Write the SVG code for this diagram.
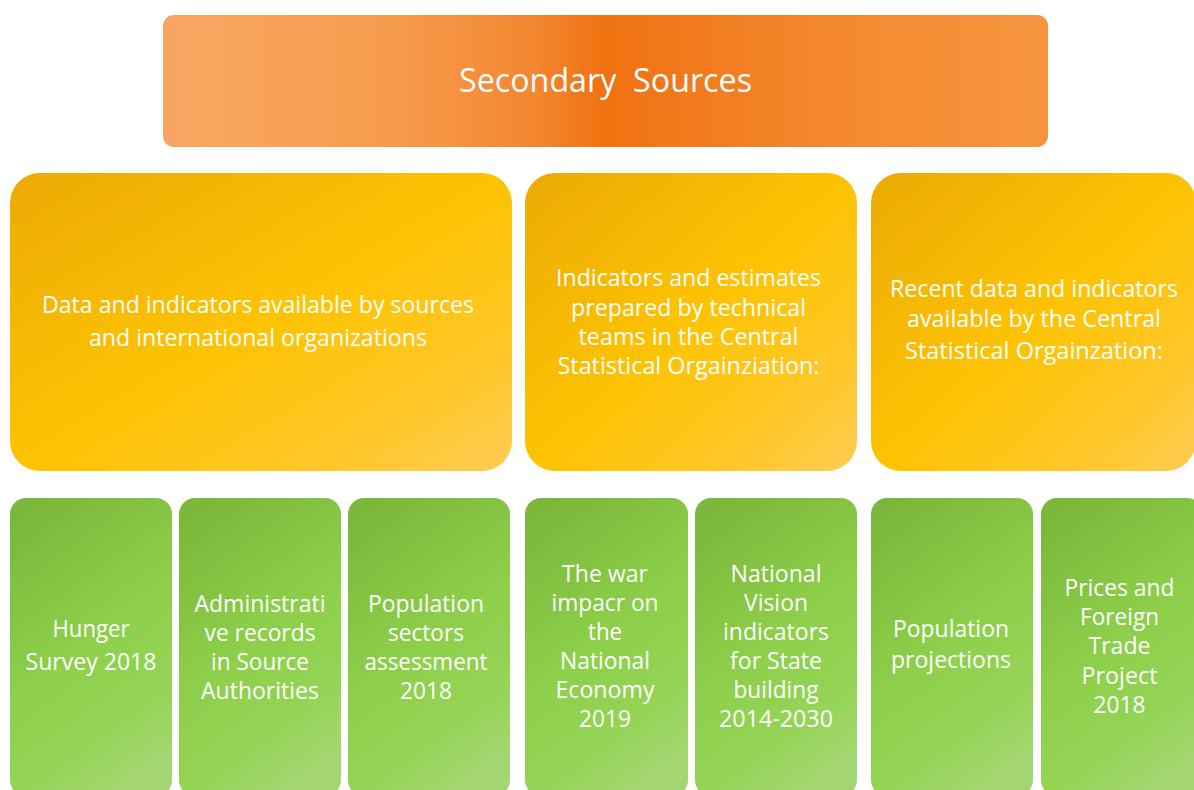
<svg xmlns="http://www.w3.org/2000/svg" width="1194" height="790" viewBox="0 0 1194 790">
<defs>
<linearGradient id="gBanner" x1="0" y1="0" x2="1" y2="0">
<stop offset="0" stop-color="#F5A462"/>
<stop offset="0.04" stop-color="#F9A65F"/>
<stop offset="0.25" stop-color="#F79C4E"/>
<stop offset="0.42" stop-color="#F48630"/>
<stop offset="0.5" stop-color="#F07210"/>
<stop offset="0.6" stop-color="#F27B1E"/>
<stop offset="0.8" stop-color="#F68B32"/>
<stop offset="1" stop-color="#F7953F"/>
</linearGradient>
<linearGradient id="gOrange" x1="0" y1="0" x2="1" y2="1">
<stop offset="0" stop-color="#EBAA05"/>
<stop offset="0.5" stop-color="#FDC302"/>
<stop offset="0.8" stop-color="#FFC72A"/>
<stop offset="1" stop-color="#FFCC55"/>
</linearGradient>
<linearGradient id="gGreen" x1="0.2" y1="0" x2="0.6" y2="1">
<stop offset="0" stop-color="#7AB73A"/>
<stop offset="0.5" stop-color="#8DCF4A"/>
<stop offset="0.8" stop-color="#94D456"/>
<stop offset="1" stop-color="#A3D670"/>
</linearGradient>
<style>
.t{font-family:"Open Sans","DejaVu Sans",sans-serif;fill:#FFFFFF;text-anchor:middle;font-size:23px}
.tb{font-size:33px}
.banner{fill:url(#gBanner)}
.ob{fill:url(#gOrange)}
.gb{fill:url(#gGreen)}
</style>
</defs>
<g id="banner">
<rect class="banner" x="163" y="15" width="885" height="132" rx="11"/>
<text class="t tb" x="605.5" y="92" xml:space="preserve" textLength="293" lengthAdjust="spacingAndGlyphs">Secondary  Sources</text>
</g>
<g id="cat-international">
<rect class="ob" x="10" y="173" width="502" height="298" rx="30"/>
<text class="t" x="258" y="313" textLength="432" lengthAdjust="spacingAndGlyphs">Data and indicators available by sources</text>
<text class="t" x="258" y="346" textLength="338" lengthAdjust="spacingAndGlyphs">and international organizations</text>
</g>
<g id="cat-technical">
<rect class="ob" x="525" y="173" width="332" height="298" rx="30"/>
<text class="t" x="688.5" y="286" textLength="265" lengthAdjust="spacingAndGlyphs">Indicators and estimates</text>
<text class="t" x="688.5" y="316" textLength="235" lengthAdjust="spacingAndGlyphs">prepared by technical</text>
<text class="t" x="688.5" y="345" textLength="220" lengthAdjust="spacingAndGlyphs">teams in the Central</text>
<text class="t" x="688.5" y="374" textLength="262" lengthAdjust="spacingAndGlyphs">Statistical Orgainziation:</text>
</g>
<g id="cat-recent">
<rect class="ob" x="871" y="173" width="325" height="298" rx="30"/>
<text class="t" x="1034" y="297" textLength="288" lengthAdjust="spacingAndGlyphs">Recent data and indicators</text>
<text class="t" x="1034" y="327" textLength="254" lengthAdjust="spacingAndGlyphs">available by the Central</text>
<text class="t" x="1034" y="359" textLength="258" lengthAdjust="spacingAndGlyphs">Statistical Orgainzation:</text>
</g>
<g id="item-hunger">
<rect class="gb" x="10" y="498" width="162" height="298" rx="16"/>
<text class="t" x="91" y="637" textLength="77" lengthAdjust="spacingAndGlyphs">Hunger</text>
<text class="t" x="91" y="670" textLength="131" lengthAdjust="spacingAndGlyphs">Survey 2018</text>
</g>
<g id="item-admin">
<rect class="gb" x="179" y="498" width="162" height="298" rx="16"/>
<text class="t" x="260" y="612" textLength="131" lengthAdjust="spacingAndGlyphs">Administrati</text>
<text class="t" x="260" y="641" textLength="111" lengthAdjust="spacingAndGlyphs">ve records</text>
<text class="t" x="260" y="670" textLength="98" lengthAdjust="spacingAndGlyphs">in Source</text>
<text class="t" x="260" y="699" textLength="118" lengthAdjust="spacingAndGlyphs">Authorities</text>
</g>
<g id="item-population-sectors">
<rect class="gb" x="348" y="498" width="162" height="298" rx="16"/>
<text class="t" x="426" y="612" textLength="116" lengthAdjust="spacingAndGlyphs">Population</text>
<text class="t" x="426" y="641" textLength="76" lengthAdjust="spacingAndGlyphs">sectors</text>
<text class="t" x="426" y="670" textLength="123" lengthAdjust="spacingAndGlyphs">assessment</text>
<text class="t" x="426" y="699" textLength="52" lengthAdjust="spacingAndGlyphs">2018</text>
</g>
<g id="item-war">
<rect class="gb" x="525" y="498" width="163" height="298" rx="16"/>
<text class="t" x="605" y="582" textLength="86" lengthAdjust="spacingAndGlyphs">The war</text>
<text class="t" x="605" y="611" textLength="107" lengthAdjust="spacingAndGlyphs">impacr on</text>
<text class="t" x="605" y="640" textLength="34" lengthAdjust="spacingAndGlyphs">the</text>
<text class="t" x="605" y="669" textLength="90" lengthAdjust="spacingAndGlyphs">National</text>
<text class="t" x="605" y="698" textLength="99" lengthAdjust="spacingAndGlyphs">Economy</text>
<text class="t" x="605" y="727" textLength="52" lengthAdjust="spacingAndGlyphs">2019</text>
</g>
<g id="item-vision">
<rect class="gb" x="695" y="498" width="162" height="298" rx="16"/>
<text class="t" x="776" y="582" textLength="91" lengthAdjust="spacingAndGlyphs">National</text>
<text class="t" x="776" y="611" textLength="64" lengthAdjust="spacingAndGlyphs">Vision</text>
<text class="t" x="776" y="640" textLength="106" lengthAdjust="spacingAndGlyphs">indicators</text>
<text class="t" x="776" y="669" textLength="92" lengthAdjust="spacingAndGlyphs">for State</text>
<text class="t" x="776" y="698" textLength="85" lengthAdjust="spacingAndGlyphs">building</text>
<text class="t" x="776" y="727" textLength="114" lengthAdjust="spacingAndGlyphs">2014-2030</text>
</g>
<g id="item-projections">
<rect class="gb" x="871" y="498" width="162" height="298" rx="16"/>
<text class="t" x="951" y="637" textLength="116" lengthAdjust="spacingAndGlyphs">Population</text>
<text class="t" x="951" y="668" textLength="120" lengthAdjust="spacingAndGlyphs">projections</text>
</g>
<g id="item-prices">
<rect class="gb" x="1041" y="498" width="162" height="298" rx="16"/>
<text class="t" x="1119.5" y="596" textLength="110" lengthAdjust="spacingAndGlyphs">Prices and</text>
<text class="t" x="1119.5" y="625" textLength="79" lengthAdjust="spacingAndGlyphs">Foreign</text>
<text class="t" x="1119.5" y="654" textLength="62" lengthAdjust="spacingAndGlyphs">Trade</text>
<text class="t" x="1119.5" y="684" textLength="76" lengthAdjust="spacingAndGlyphs">Project</text>
<text class="t" x="1119.5" y="713" textLength="52" lengthAdjust="spacingAndGlyphs">2018</text>
</g>
<g id="connectors"></g>
</svg>
